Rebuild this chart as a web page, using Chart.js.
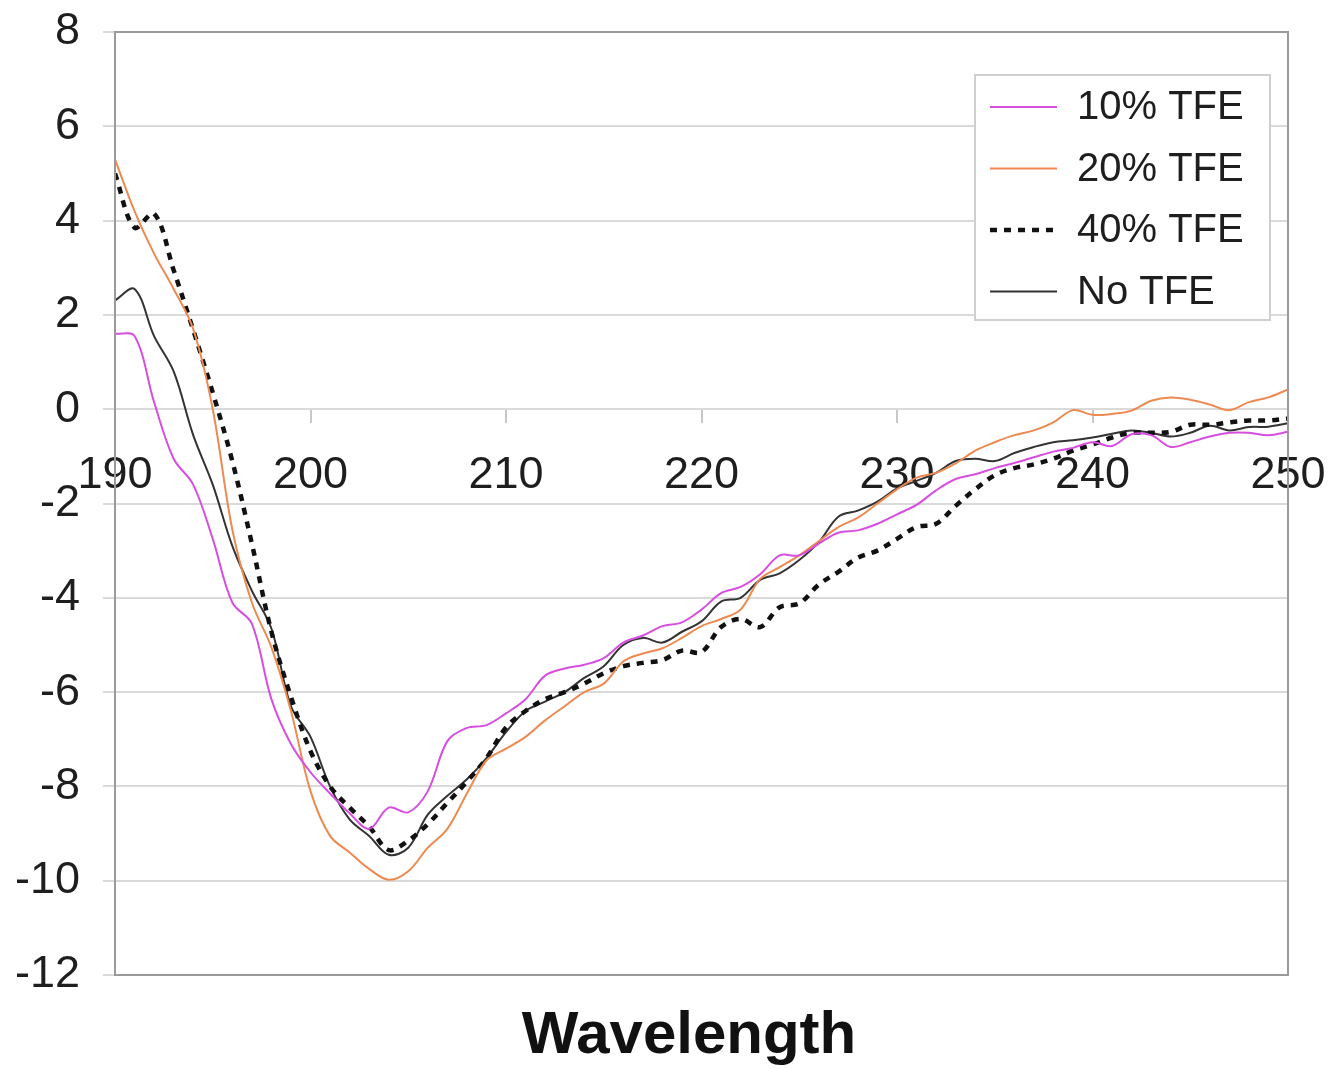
<!DOCTYPE html>
<html>
<head>
<meta charset="utf-8">
<script src="https://cdn.jsdelivr.net/npm/chart.js@4.4.1/dist/chart.umd.min.js"></script>
<style>
  html, body { margin: 0; padding: 0; background: #fff; }
  #wrap { width: 1340px; height: 1069px; }
</style>
</head>
<body>
<div id="wrap"><canvas id="cd"></canvas></div>
<script>
// ── Data ─────────────────────────────────────────────────
const wavelength = [
  190, 191, 192, 193, 194, 195, 196, 197, 198, 199,
  200, 201, 202, 203, 204, 205, 206, 207, 208, 209,
  210, 211, 212, 213, 214, 215, 216, 217, 218, 219,
  220, 221, 222, 223, 224, 225, 226, 227, 228, 229,
  230, 231, 232, 233, 234, 235, 236, 237, 238, 239,
  240, 241, 242, 243, 244, 245, 246, 247, 248, 249, 250,
];
const yTicks = [8, 6, 4, 2, 0, -2, -4, -6, -8, -10, -12];
const xTicks = [190, 200, 210, 220, 230, 240, 250];

const tfe10 = [
  1.6, 1.55, 0.15, -1.05, -1.6, -2.75, -4.1, -4.55, -6.15, -7.1,
  -7.7, -8.15, -8.57, -8.9, -8.45, -8.55, -8.1, -7.04, -6.76, -6.7,
  -6.45, -6.15, -5.65, -5.5, -5.42, -5.28, -4.95, -4.8, -4.6, -4.52,
  -4.25, -3.9, -3.77, -3.5, -3.1, -3.1, -2.85, -2.62, -2.57, -2.43,
  -2.23, -2.03, -1.72, -1.48, -1.38, -1.25, -1.14, -1.02, -0.9, -0.82,
  -0.7, -0.78, -0.53, -0.55, -0.8, -0.7, -0.58, -0.5, -0.5, -0.55, -0.48,
];
const tfe20 = [
  5.3, 4.2, 3.3, 2.55, 1.7, 0.0, -2.55, -4.1, -5.05, -6.4,
  -8.1, -9.05, -9.4, -9.75, -9.98, -9.8, -9.3, -8.9, -8.15, -7.45,
  -7.2, -6.95, -6.6, -6.3, -6.0, -5.82, -5.35, -5.18, -5.07, -4.85,
  -4.6, -4.45, -4.25, -3.6, -3.35, -3.1, -2.8, -2.5, -2.3, -2.0,
  -1.7, -1.45, -1.35, -1.15, -0.88, -0.7, -0.55, -0.45, -0.28, -0.02,
  -0.12, -0.1, -0.03, 0.18, 0.25, 0.2, 0.1, -0.02, 0.15, 0.25, 0.42,
];
const tfe40 = [
  5.0, 3.85, 4.15, 2.95, 1.68, 0.35, -1.1, -2.85, -4.72, -6.1,
  -7.25, -8.0, -8.45, -8.85, -9.35, -9.15, -8.8, -8.35, -7.9, -7.4,
  -6.75, -6.4, -6.15, -6.0, -5.82, -5.6, -5.45, -5.38, -5.32, -5.12,
  -5.15, -4.62, -4.45, -4.62, -4.2, -4.12, -3.72, -3.45, -3.15, -3.0,
  -2.75, -2.5, -2.43, -2.05, -1.7, -1.4, -1.25, -1.17, -1.05, -0.88,
  -0.75, -0.6, -0.5, -0.5, -0.48, -0.33, -0.33, -0.28, -0.24, -0.24, -0.2,
];
const noTfe = [
  2.31, 2.55, 1.55, 0.8, -0.55, -1.6, -2.9, -3.85, -4.65, -6.3,
  -6.95, -8.0, -8.7, -9.05, -9.45, -9.3, -8.6, -8.2, -7.85, -7.4,
  -6.85, -6.4, -6.2, -6.0, -5.7, -5.45, -5.0, -4.85, -4.95, -4.72,
  -4.5, -4.08, -4.0, -3.62, -3.48, -3.2, -2.82, -2.28, -2.15, -1.96,
  -1.68, -1.52, -1.35, -1.1, -1.05, -1.1, -0.93, -0.8, -0.7, -0.66,
  -0.6, -0.52, -0.45, -0.5, -0.58, -0.5, -0.35, -0.45, -0.38, -0.37, -0.3,
];

// ── Helpers ──────────────────────────────────────────────
const FONT = "'Liberation Sans', Arial, sans-serif";
const pts = (vals) => wavelength.map((w, i) => ({ x: w, y: vals[i] }));

function series(label, vals, color, width, dash) {
  return {
    label,
    data: pts(vals),
    borderColor: color,
    backgroundColor: color,
    borderWidth: width,
    borderDash: dash || [],
    pointRadius: 0,
    tension: 0.35,
    fill: false,
  };
}

// Frame round the plot, boxed legend top right, axis title underneath
const frameAndLegend = {
  id: "frameAndLegend",
  afterDatasetsDraw(chart) {
    const { ctx, chartArea: a } = chart;
    ctx.save();
    ctx.strokeStyle = "#9a9a9a";
    ctx.lineWidth = 2;
    ctx.strokeRect(a.left, a.top, a.right - a.left, a.bottom - a.top);

    const box = { x: 975, y: 75, w: 295, h: 245 };
    ctx.fillStyle = "#fff";
    ctx.fillRect(box.x, box.y, box.w, box.h);
    ctx.strokeStyle = "#cfcfcf";
    ctx.lineWidth = 2;
    ctx.strokeRect(box.x, box.y, box.w, box.h);

    ctx.font = `40px ${FONT}`;
    ctx.textBaseline = "middle";
    ctx.textAlign = "left";
    chart.data.datasets.forEach((ds, i) => {
      const yy = 107 + i * 61.5;
      ctx.beginPath();
      ctx.strokeStyle = ds.borderColor;
      ctx.lineWidth = ds.borderWidth;
      ctx.setLineDash(ds.borderDash);
      ctx.moveTo(990, yy);
      ctx.lineTo(1057, yy);
      ctx.stroke();
      ctx.setLineDash([]);
      ctx.fillStyle = "#1e1e1e";
      ctx.fillText(ds.label, 1077, yy + 1);
    });

    ctx.font = `bold 60px ${FONT}`;
    ctx.textAlign = "center";
    ctx.textBaseline = "alphabetic";
    ctx.fillStyle = "#111";
    ctx.fillText("Wavelength", 689, 1053);
    ctx.restore();
  },
};

// ── Chart ────────────────────────────────────────────────
new Chart(document.getElementById("cd"), {
  type: "line",
  data: {
    datasets: [
      series("10% TFE", tfe10, "#d64fe0", 2),
      series("20% TFE", tfe20, "#ec8a52", 2),
      series("40% TFE", tfe40, "#111111", 4.5, [7, 7]),
      series("No TFE", noTfe, "#333333", 2),
    ],
  },
  options: {
    responsive: true,
    maintainAspectRatio: false,
    devicePixelRatio: 1,
    animation: false,
    layout: { padding: { left: 2, right: 52, top: 32, bottom: 94 } },
    plugins: {
      legend: { display: false },
      tooltip: { enabled: false },
    },
    scales: {
      x: {
        type: "linear",
        min: 190,
        max: 250,
        position: { y: 0 },
        afterBuildTicks: (s) => { s.ticks = xTicks.map((v) => ({ value: v })); },
        ticks: {
          autoSkip: false,
          maxRotation: 0,
          padding: 14,
          color: "#1e1e1e",
          font: { family: FONT, size: 45, lineHeight: 1.7 },
        },
        grid: { drawOnChartArea: false, drawTicks: true, tickLength: 14, color: "#c8c8c8", lineWidth: 2 },
        border: { display: false },
      },
      y: {
        min: -12,
        max: 8,
        afterBuildTicks: (s) => { s.ticks = yTicks.map((v) => ({ value: v })); },
        afterFit: (s) => { s.width = 113; },
        ticks: {
          padding: 23,
          color: "#1e1e1e",
          font: { family: FONT, size: 45, lineHeight: 0.4 },
        },
        grid: { color: "#dadada", lineWidth: 2, tickLength: 12 },
        border: { display: false },
      },
    },
  },
  plugins: [frameAndLegend],
});
</script>
</body>
</html>
